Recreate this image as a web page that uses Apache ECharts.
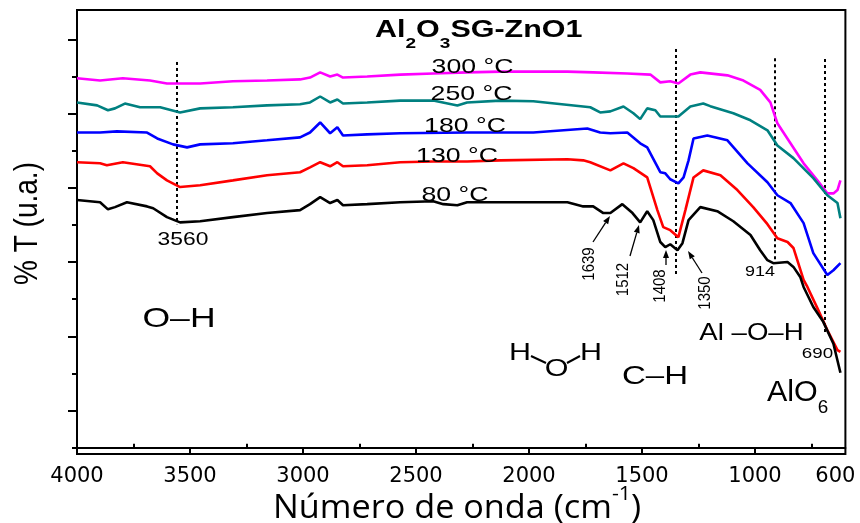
<!DOCTYPE html>
<html>
<head>
<meta charset="utf-8">
<script src="https://cdn.jsdelivr.net/npm/echarts@6/dist/echarts.min.js"></script>
<style>
  html, body { margin: 0; padding: 0; background: #fff; }
  #chart { width: 860px; height: 523px; }
</style>
</head>
<body>
<div id="chart"></div>
<script>
// FTIR spectra of Al2O3SG-ZnO1 treated at several temperatures.
// Each series: [wavenumber (cm-1), transmittance (arbitrary units)].
const temps = ['80 °C', '130 °C', '180 °C', '250 °C', '300 °C'];

const spec80 = [
  [4000,66.7],[3898,66.1],[3863,64.2],[3832,64.8],[3779,66.1],[3690,65.0],[3663,64.5],[3602,62.1],
  [3544,60.7],[3455,61.0],[3310,62.1],[3159,63.2],[3013,64.0],[2969,65.6],[2924,67.5],[2880,65.9],
  [2848,66.7],[2823,65.3],[2716,65.6],[2570,66.1],[2424,66.4],[2379,65.6],[2317,65.3],[2274,66.1],
  [2127,66.1],[1981,66.1],[1830,66.1],[1760,65.0],[1716,65.0],[1671,63.2],[1640,63.2],[1587,65.6],
  [1542,63.2],[1508,60.7],[1477,63.7],[1450,61.3],[1419,55.4],[1397,54.0],[1375,54.8],[1343,53.2],
  [1321,55.1],[1294,61.3],[1242,64.8],[1167,63.7],[1096,61.0],[1020,57.3],[977,53.2],[945,50.5],
  [919,49.7],[856,50.0],[830,48.7],[799,45.9],[785,43.3],[742,37.9],[698,33.9],[653,28.0],[622,20.2]
];

const spec130 = [
  [4000,76.9],[3898,76.6],[3868,76.1],[3797,76.9],[3677,75.8],[3645,73.9],[3602,72.0],[3544,70.2],
  [3455,70.7],[3310,72.0],[3159,73.4],[3013,74.2],[2969,75.5],[2924,76.9],[2880,75.8],[2848,76.9],
  [2823,75.8],[2716,76.1],[2570,76.9],[2424,77.1],[2274,77.1],[2127,77.4],[1830,77.7],[1760,77.4],
  [1729,76.9],[1640,74.7],[1582,76.6],[1538,75.3],[1477,72.8],[1432,64.0],[1406,59.4],[1375,58.6],
  [1339,56.7],[1308,64.0],[1272,72.8],[1229,74.7],[1153,73.4],[1078,69.4],[1008,64.8],[945,60.2],
  [901,56.4],[856,55.4],[830,53.8],[785,45.2],[768,43.3],[724,37.6],[680,31.7],[635,26.3],[622,25.8]
];

const spec180 = [
  [4000,84.9],[3898,84.9],[3823,85.2],[3690,84.9],[3645,83.3],[3575,81.7],[3513,80.9],[3455,81.7],
  [3310,82.0],[3159,82.8],[3013,83.6],[2969,84.9],[2924,87.6],[2880,84.7],[2848,86.3],[2823,84.1],
  [2716,84.4],[2570,84.7],[2274,84.9],[1981,84.9],[1742,86.0],[1685,84.9],[1640,84.7],[1565,84.9],
  [1508,82.0],[1477,80.9],[1419,74.2],[1397,73.9],[1375,72.3],[1339,71.2],[1316,72.8],[1294,77.4],
  [1272,83.3],[1211,84.1],[1122,82.8],[1033,76.6],[945,71.5],[901,68.0],[843,65.9],[785,60.5],
  [742,52.4],[680,46.5],[653,47.8],[622,49.7]
];

const spec250 = [
  [4000,93.0],[3911,92.2],[3863,90.9],[3832,91.4],[3788,92.7],[3721,91.7],[3632,91.7],[3544,90.3],
  [3455,91.4],[3310,91.7],[3159,92.2],[3013,92.5],[2969,93.0],[2924,94.6],[2880,93.0],[2848,93.8],
  [2823,92.7],[2716,93.0],[2570,93.5],[2424,93.5],[2317,92.2],[2274,93.0],[2127,93.5],[1981,93.3],
  [1729,91.7],[1685,90.3],[1640,90.6],[1582,91.9],[1538,90.1],[1508,88.5],[1477,91.4],[1441,90.9],
  [1419,89.2],[1375,89.2],[1339,89.2],[1286,91.9],[1229,92.7],[1198,92.0],[1096,90.1],[1020,88.2],
  [945,85.5],[901,81.4],[830,78.0],[742,72.6],[680,68.0],[635,65.9],[622,61.8]
];

const spec300 = [
  [4000,99.5],[3898,98.9],[3797,99.5],[3677,98.9],[3602,98.1],[3544,98.1],[3455,98.1],[3310,98.7],
  [3159,98.9],[3013,99.2],[2969,99.7],[2924,101.1],[2880,100.0],[2848,100.5],[2823,99.7],[2716,100.0],
  [2570,100.5],[2424,100.8],[2274,101.1],[2127,101.3],[1830,101.3],[1716,101.1],[1565,100.8],[1463,100.5],
  [1419,98.4],[1375,98.7],[1339,98.1],[1286,100.5],[1242,101.1],[1122,100.3],[1051,98.9],[977,96.4],
  [932,93.0],[901,87.4],[843,82.0],[785,76.6],[724,72.0],[680,68.5],[653,68.5],[635,69.4],[622,72.0]
];

// Marked absorption bands (cm-1)
const bandLines = [3560, 1350, 914, 690];
const bandTicks = [1639, 1512, 1408, 1350];

// Axis ticks
const xMajor = [4000, 3500, 3000, 2500, 2000, 1500, 1000];
const xMinor = [3750, 3250, 2750, 2250, 1750, 1250, 750];
const xLabels = [4000, 3500, 3000, 2500, 2000, 1500, 1000, 600];
const yMajor = [10, 30, 50, 70, 90, 110];
const yMinor = [0, 20, 40, 60, 80, 100];

const colors = ['#000000', '#ff0000', '#0000ff', '#008080', '#ff00ff'];
const spectra = [spec80, spec130, spec180, spec250, spec300];

const SANS = '"Liberation Sans", Arial, sans-serif';
const TICK_FONT = '"DejaVu Sans", sans-serif';
const measureCtx = document.createElement('canvas').getContext('2d');
function textWidth(str, size, weight, family) {
  measureCtx.font = (weight || 'normal') + ' ' + size + 'px ' + (family || SANS);
  return measureCtx.measureText(str).width;
}
function label(text, x, y, size, opts) {
  opts = opts || {};
  return {
    type: 'text', x: x, y: y, z: 100,
    scaleX: opts.sx || 1, scaleY: opts.sy || 1, rotation: opts.rot || 0,
    style: {
      text: text, fontSize: size, fontWeight: opts.weight || 'normal',
      fontFamily: opts.family || SANS, fill: '#000',
      align: opts.align || 'center', verticalAlign: 'middle'
    }
  };
}
// A run of text pieces laid out left to right (for sub/superscripts)
function textRun(x0, y, pieces, sx) {
  const out = [];
  let x = x0;
  pieces.forEach(function (p) {
    out.push(label(p.t, x, y + (p.dy || 0), p.size,
      { sx: sx, weight: p.weight, family: p.family, align: 'left' }));
    x += textWidth(p.t, p.size, p.weight, p.family) * sx;
  });
  return out;
}
function arrow(x1, y1, x2, y2) {
  const a = Math.atan2(y2 - y1, x2 - x1), L = 8, W = 3;
  const bx = x2 - L * Math.cos(a), by = y2 - L * Math.sin(a);
  return [
    { type: 'line', z: 100, shape: { x1: x1, y1: y1, x2: bx, y2: by },
      style: { stroke: '#000', lineWidth: 1.3 } },
    { type: 'polygon', z: 100, shape: { points: [
        [x2, y2],
        [bx + W * Math.sin(a), by - W * Math.cos(a)],
        [bx - W * Math.sin(a), by + W * Math.cos(a)] ] },
      style: { fill: '#000' } }
  ];
}

const chart = echarts.init(document.getElementById('chart'), null, { renderer: 'canvas' });

const Y_MIN = -1.7, Y_MAX = 117.9;
const axisBase = { type: 'value', inverse: true, min: 600, max: 4000, splitLine: { show: false } };
const yBase = { type: 'value', min: Y_MIN, max: Y_MAX, splitLine: { show: false },
  axisLabel: { show: false }, position: 'left' };

const series = spectra.map(function (d, i) {
  return {
    name: temps[i], type: 'line', data: d, showSymbol: false, symbol: 'none',
    lineStyle: { color: colors[i], width: 2.6 }, z: 10 - i
  };
});
// dotted guide lines at the marked bands
const guideSpan = { 3560: [103.9, 60.2], 1350: [107.4, 46.8], 914: [104.9, 50.5], 690: [104.7, 30.9] };
series[0].markLine = {
  silent: true, symbol: ['none', 'none'], label: { show: false },
  lineStyle: { color: '#000', type: [3, 3], width: 2 },
  data: bandLines.map(function (b) {
    return [{ coord: [b, guideSpan[b][0]] }, { coord: [b, guideSpan[b][1]] }];
  })
};

let graphic = [];
// title with subscripts
graphic = graphic.concat(textRun(375, 30.5, [
  { t: 'Al', size: 24, weight: 'bold' },
  { t: '2', size: 15, weight: 'bold', dy: 13 },
  { t: 'O', size: 24, weight: 'bold' },
  { t: '3', size: 15, weight: 'bold', dy: 13 },
  { t: 'SG-ZnO1', size: 24, weight: 'bold' }
], 1.27));
// temperature labels
const tempPos = [[455, 195.5], [457, 156.5], [465, 126.5], [471.5, 94], [472.5, 67.5]];
temps.forEach(function (t, i) {
  graphic.push(label(t, tempPos[i][0], tempPos[i][1], 21, { sx: 1.27 }));
});
// band numbers
graphic.push(label(String(bandLines[0]), 183, 240, 18, { sx: 1.27 }));
graphic.push(label(String(bandLines[2]), 760, 272, 14, { sx: 1.28 }));
graphic.push(label(String(bandLines[3]), 817.5, 354, 15, { sx: 1.25 }));
const rotPos = [[589, 264], [623.5, 279.5], [660, 286], [705.5, 293]];
bandTicks.forEach(function (b, i) {
  graphic.push(label(String(b), rotPos[i][0], rotPos[i][1], 15, { rot: Math.PI / 2, sy: 1.15 }));
});
graphic = graphic.concat(arrow(593, 242, 610, 216), arrow(630, 256, 639, 225),
  arrow(666, 265, 666, 250), arrow(702, 273, 688, 251));
// group assignments
graphic.push(label('O\u2013H', 179, 319, 28, { sx: 1.27 }));
graphic.push(label('H', 520, 353.5, 24, { sx: 1.27 }));
graphic.push(label('O', 556.5, 369, 24, { sx: 1.27 }));
graphic.push(label('H', 591, 353.5, 24, { sx: 1.27 }));
graphic.push({ type: 'line', z: 100, shape: { x1: 531, y1: 356, x2: 546, y2: 363 }, style: { stroke: '#000', lineWidth: 2 } });
graphic.push({ type: 'line', z: 100, shape: { x1: 567, y1: 363, x2: 580, y2: 356 }, style: { stroke: '#000', lineWidth: 2 } });
graphic.push(label('C\u2013H', 655, 377, 26, { sx: 1.27 }));
graphic.push(label('Al \u2013O\u2013H', 751.5, 333, 24, { sx: 1.15 }));
graphic = graphic.concat(textRun(767, 392.5, [
  { t: 'AlO', size: 29 },
  { t: '6', size: 18, dy: 16 }
], 1.05));
// axis titles
graphic.push(label('% T (u.a.)', 28, 223.5, 28, { rot: Math.PI / 2, sy: 1.2 }));
graphic = graphic.concat(textRun(273, 508.5, [
  { t: 'Número de onda (cm', size: 32, family: '"Open Sans", sans-serif' },
  { t: '-1', size: 20, dy: -14, family: '"Open Sans", sans-serif' },
  { t: ')', size: 32, family: '"Open Sans", sans-serif' }
], 1.07));

chart.setOption({
  animation: false,
  backgroundColor: '#fff',
  grid: { left: 77, right: 14.6, top: 10, bottom: 69, show: true,
    borderColor: '#000', borderWidth: 2, containLabel: false, outerBoundsMode: 'none' },
  xAxis: [
    Object.assign({}, axisBase, {
      axisLine: { show: true, lineStyle: { color: '#000', width: 2 } },
      axisTick: { show: true, inside: false, length: 7, customValues: xMajor,
        lineStyle: { color: '#000', width: 2 } },
      axisLabel: { show: true, customValues: xLabels, margin: 12, color: '#000',
        fontSize: 21, fontFamily: TICK_FONT,
        // the end label sits just inside the right frame
        formatter: function (v) { return v === 600 ? '{e|600}' : String(v); },
        rich: { e: { fontSize: 21, fontFamily: TICK_FONT, color: '#000', padding: [0, 20, 0, 0] } } }
    }),
    Object.assign({}, axisBase, {
      axisLine: { show: false },
      axisTick: { show: true, inside: false, length: 4, customValues: xMinor,
        lineStyle: { color: '#000', width: 2 } },
      axisLabel: { show: false }
    })
  ],
  yAxis: [
    Object.assign({}, yBase, {
      axisLine: { show: true, lineStyle: { color: '#000', width: 2 } },
      axisTick: { show: true, inside: false, length: 9, customValues: yMajor,
        lineStyle: { color: '#000', width: 2 } }
    }),
    Object.assign({}, yBase, {
      axisLine: { show: false },
      axisTick: { show: true, inside: false, length: 5, customValues: yMinor,
        lineStyle: { color: '#000', width: 2 } }
    })
  ],
  series: series,
  graphic: graphic
});
</script>
</body>
</html>
